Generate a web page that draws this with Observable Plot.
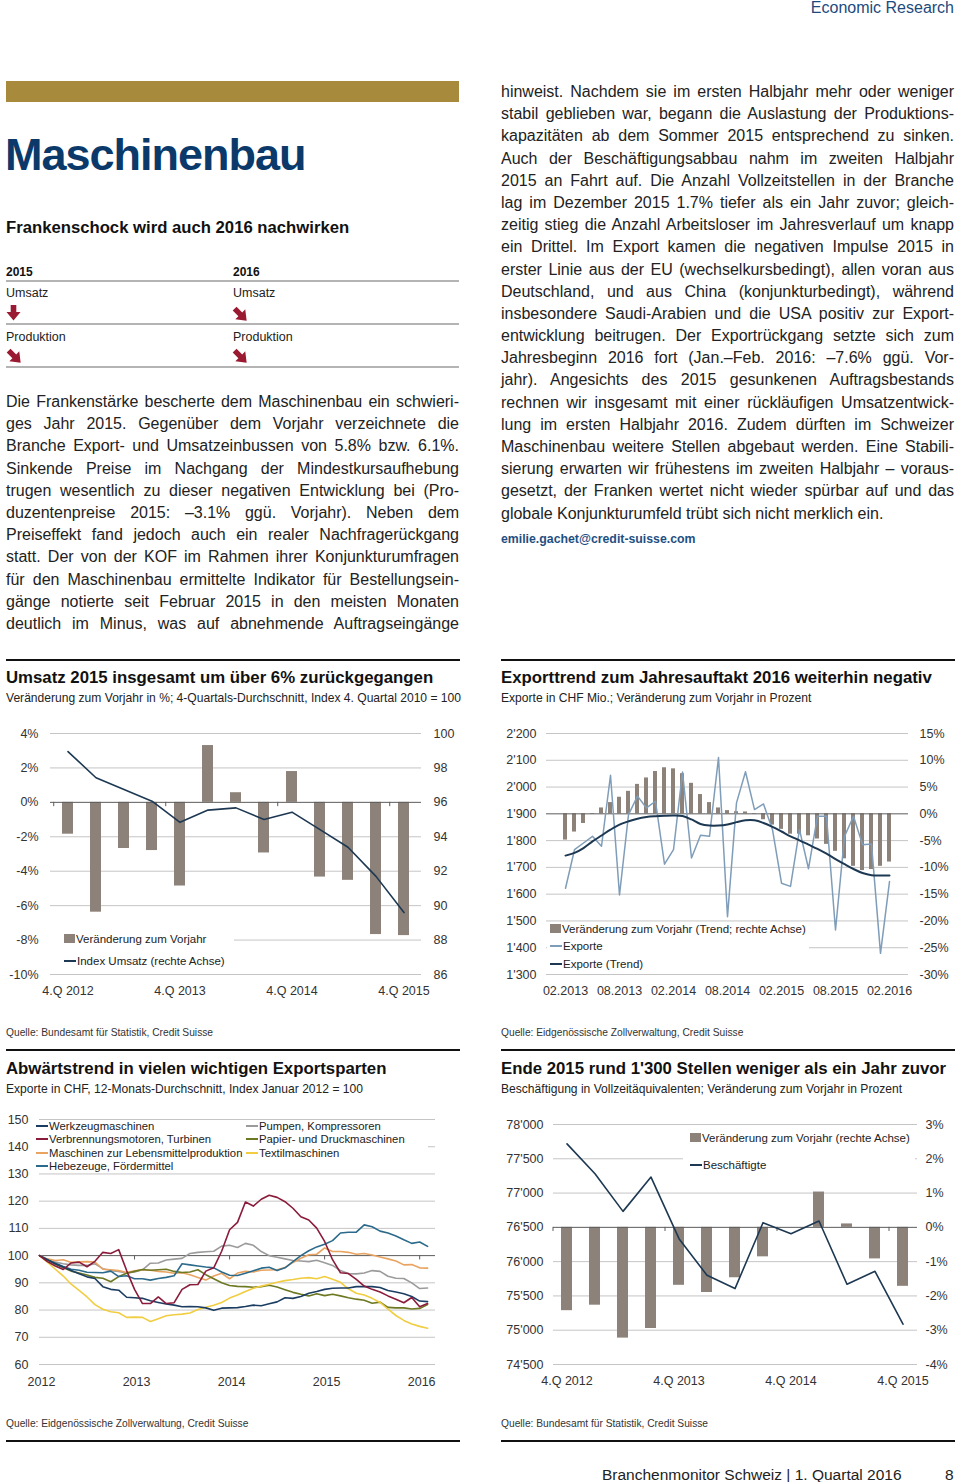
<!DOCTYPE html>
<html lang="de">
<head>
<meta charset="utf-8">
<script src="https://cdn.jsdelivr.net/npm/d3@7"></script>
<script src="https://cdn.jsdelivr.net/npm/@observablehq/plot@0.6"></script>
<style>
  html, body { margin: 0; padding: 0; }
  body { width: 960px; height: 1482px; position: relative; overflow: hidden; background: #fff;
         font-family: "Liberation Sans", Arial, Helvetica, sans-serif; color: #1e1e1e; }
  .a { position: absolute; white-space: nowrap; }
  .rule { position: absolute; height: 2px; background: #111; }
  .grule { position: absolute; height: 2px; background: #b4b4b4; }
  .ctitle { position: absolute; font-weight: bold; font-size: 16.8px; line-height: 20px; color: #111; white-space: nowrap; }
  .csub { position: absolute; font-size: 13.5px; line-height: 16px; color: #222; white-space: nowrap; transform: scaleX(0.895); transform-origin: 0 0; }
  .src { position: absolute; font-size: 11.5px; line-height: 14px; color: #333; white-space: nowrap; transform: scaleX(0.89); transform-origin: 0 0; }
  .col { position: absolute; font-size: 16px; color: #222; }
  .ln { height: 22.2px; line-height: 22.2px; text-align: justify; text-align-last: justify; white-space: nowrap; }
  .ln.last { text-align-last: left; }
  .leg { position: absolute; background: #fff; font-size: 11.5px; color: #222; z-index: 5; }
  .leg .row { position: absolute; white-space: nowrap; line-height: 14px; height: 14px; }
  .sq { display: inline-block; width: 11px; height: 9px; background: #8c827a; margin-right: 1px; vertical-align: 0px; }
  .lw { display: inline-block; width: 12px; height: 2px; margin-right: 1px; vertical-align: 3px; }
  svg.chart { position: absolute; max-width: none; }
</style>
</head>
<body>

<!-- page header -->
<div class="a" style="right:6px; top:-2px; font-size:16px; line-height:20px; color:#1d4a7c;">Economic Research</div>
<div class="a" style="left:6px; top:81px; width:453px; height:21px; background:#a78a3b;"></div>
<div class="a" style="left:5px; top:132px; font-size:45px; line-height:45px; font-weight:bold; letter-spacing:-1px; color:#0b3a6a;">Maschinenbau</div>
<div class="a" style="left:6px; top:218px; font-size:16.7px; line-height:20px; font-weight:bold; color:#111;">Frankenschock wird auch 2016 nachwirken</div>

<!-- outlook table -->
<div class="a" style="left:6px; top:264px; font-size:12px; line-height:16px; font-weight:bold; color:#111;">2015</div>
<div class="a" style="left:233px; top:264px; font-size:12px; line-height:16px; font-weight:bold; color:#111;">2016</div>
<div class="grule" style="left:6px; top:280px; width:453px;"></div>
<div class="a" style="left:6px; top:285px; font-size:12.5px; line-height:16px; color:#222;">Umsatz</div>
<div class="a" style="left:233px; top:285px; font-size:12.5px; line-height:16px; color:#222;">Umsatz</div>
<svg class="a" style="left:6px; top:305px;" width="15" height="16" viewBox="0 0 15 16"><polygon points="4.7,0 10.3,0 10.3,7 14.5,7 7.5,15.5 0.5,7 4.7,7" fill="#9a1a31"/></svg>
<svg class="a" style="left:231px; top:305px;" width="20" height="20" viewBox="0 0 20 20"><g transform="rotate(-45 10 10)"><polygon points="7.3,1 12.7,1 12.7,9 17,9 10,18 3,9 7.3,9" fill="#9a1a31"/></g></svg>
<div class="grule" style="left:6px; top:323px; width:453px;"></div>
<div class="a" style="left:6px; top:329px; font-size:12.5px; line-height:16px; color:#222;">Produktion</div>
<div class="a" style="left:233px; top:329px; font-size:12.5px; line-height:16px; color:#222;">Produktion</div>
<svg class="a" style="left:5px; top:347px;" width="20" height="20" viewBox="0 0 20 20"><g transform="rotate(-45 10 10)"><polygon points="7.3,1 12.7,1 12.7,9 17,9 10,18 3,9 7.3,9" fill="#9a1a31"/></g></svg>
<svg class="a" style="left:231px; top:347px;" width="20" height="20" viewBox="0 0 20 20"><g transform="rotate(-45 10 10)"><polygon points="7.3,1 12.7,1 12.7,9 17,9 10,18 3,9 7.3,9" fill="#9a1a31"/></g></svg>
<div class="grule" style="left:6px; top:366px; width:453px;"></div>

<!-- left text column -->
<div class="col" style="left:6px; top:391px; width:453px;">
  <div class="ln">Die Frankenstärke bescherte dem Maschinenbau ein schwieri-</div>
  <div class="ln">ges Jahr 2015. Gegenüber dem Vorjahr verzeichnete die</div>
  <div class="ln">Branche Export- und Umsatzeinbussen von 5.8% bzw. 6.1%.</div>
  <div class="ln">Sinkende Preise im Nachgang der Mindestkursaufhebung</div>
  <div class="ln">trugen wesentlich zu dieser negativen Entwicklung bei (Pro-</div>
  <div class="ln">duzentenpreise 2015: –3.1% ggü. Vorjahr). Neben dem</div>
  <div class="ln">Preiseffekt fand jedoch auch ein realer Nachfragerückgang</div>
  <div class="ln">statt. Der von der KOF im Rahmen ihrer Konjunkturumfragen</div>
  <div class="ln">für den Maschinenbau ermittelte Indikator für Bestellungsein-</div>
  <div class="ln">gänge notierte seit Februar 2015 in den meisten Monaten</div>
  <div class="ln">deutlich im Minus, was auf abnehmende Auftragseingänge</div>
</div>

<!-- right text column -->
<div class="col" style="left:501px; top:81px; width:453px;">
  <div class="ln">hinweist. Nachdem sie im ersten Halbjahr mehr oder weniger</div>
  <div class="ln">stabil geblieben war, begann die Auslastung der Produktions-</div>
  <div class="ln">kapazitäten ab dem Sommer 2015 entsprechend zu sinken.</div>
  <div class="ln">Auch der Beschäftigungsabbau nahm im zweiten Halbjahr</div>
  <div class="ln">2015 an Fahrt auf. Die Anzahl Vollzeitstellen in der Branche</div>
  <div class="ln">lag im Dezember 2015 1.7% tiefer als ein Jahr zuvor; gleich-</div>
  <div class="ln">zeitig stieg die Anzahl Arbeitsloser im Jahresverlauf um knapp</div>
  <div class="ln">ein Drittel. Im Export kamen die negativen Impulse 2015 in</div>
  <div class="ln">erster Linie aus der EU (wechselkursbedingt), allen voran aus</div>
  <div class="ln">Deutschland, und aus China (konjunkturbedingt), während</div>
  <div class="ln">insbesondere Saudi-Arabien und die USA positiv zur Export-</div>
  <div class="ln">entwicklung beitrugen. Der Exportrückgang setzte sich zum</div>
  <div class="ln">Jahresbeginn 2016 fort (Jan.–Feb. 2016: –7.6% ggü. Vor-</div>
  <div class="ln">jahr). Angesichts des 2015 gesunkenen Auftragsbestands</div>
  <div class="ln">rechnen wir insgesamt mit einer rückläufigen Umsatzentwick-</div>
  <div class="ln">lung im ersten Halbjahr 2016. Zudem dürften im Schweizer</div>
  <div class="ln">Maschinenbau weitere Stellen abgebaut werden. Eine Stabili-</div>
  <div class="ln">sierung erwarten wir frühestens im zweiten Halbjahr – voraus-</div>
  <div class="ln">gesetzt, der Franken wertet nicht wieder spürbar auf und das</div>
  <div class="ln last">globale Konjunkturumfeld trübt sich nicht merklich ein.</div>
</div>
<div class="a" style="left:501px; top:531px; font-size:12.3px; line-height:16px; font-weight:bold; color:#1f4f82;">emilie.gachet@credit-suisse.com</div>

<!-- chart section headers -->
<div class="rule" style="left:6px; top:659px; width:454px;"></div>
<div class="rule" style="left:501px; top:659px; width:454px;"></div>
<div class="ctitle" style="left:6px; top:668px;">Umsatz 2015 insgesamt um über 6% zurückgegangen</div>
<div class="csub" style="left:6px; top:690px;">Veränderung zum Vorjahr in %; 4-Quartals-Durchschnitt, Index 4. Quartal 2010 = 100</div>
<div class="ctitle" style="left:501px; top:668px;">Exporttrend zum Jahresauftakt 2016 weiterhin negativ</div>
<div class="csub" style="left:501px; top:690px;">Exporte in CHF Mio.; Veränderung zum Vorjahr in Prozent</div>
<div class="src" style="left:6px; top:1025px;">Quelle: Bundesamt für Statistik, Credit Suisse</div>
<div class="src" style="left:501px; top:1025px;">Quelle: Eidgenössische Zollverwaltung, Credit Suisse</div>

<div class="rule" style="left:6px; top:1049px; width:454px;"></div>
<div class="rule" style="left:501px; top:1049px; width:454px;"></div>
<div class="ctitle" style="left:6px; top:1059px;">Abwärtstrend in vielen wichtigen Exportsparten</div>
<div class="csub" style="left:6px; top:1081px;">Exporte in CHF, 12-Monats-Durchschnitt, Index Januar 2012 = 100</div>
<div class="ctitle" style="left:501px; top:1059px;">Ende 2015 rund 1'300 Stellen weniger als ein Jahr zuvor</div>
<div class="csub" style="left:501px; top:1081px;">Beschäftigung in Vollzeitäquivalenten; Veränderung zum Vorjahr in Prozent</div>
<div class="src" style="left:6px; top:1416px;">Quelle: Eidgenössische Zollverwaltung, Credit Suisse</div>
<div class="src" style="left:501px; top:1416px;">Quelle: Bundesamt für Statistik, Credit Suisse</div>
<div class="rule" style="left:6px; top:1440px; width:454px;"></div>
<div class="rule" style="left:501px; top:1440px; width:454px;"></div>

<!-- page footer -->
<div class="a" style="left:602px; top:1465px; font-size:15.5px; line-height:20px; color:#222;">Branchenmonitor Schweiz | 1. Quartal 2016</div>
<div class="a" style="left:945px; top:1465px; font-size:15.5px; line-height:20px; color:#222;">8</div>

<!-- legends (HTML, over the plots) -->
<div class="leg" style="left:48px; top:926px; width:186px; height:43px;">
  <div class="row" style="left:16px; top:6px;"><span class="sq"></span>Veränderung zum Vorjahr</div>
  <div class="row" style="left:16px; top:28px;"><span class="lw" style="background:#1d3852"></span>Index Umsatz (rechte Achse)</div>
</div>
<div class="leg" style="left:547px; top:922px; width:262px; height:49px;">
  <div class="row" style="left:3px; top:0px;"><span class="sq"></span>Veränderung zum Vorjahr (Trend; rechte Achse)</div>
  <div class="row" style="left:3px; top:17px;"><span class="lw" style="background:#7f9db9"></span>Exporte</div>
  <div class="row" style="left:3px; top:35px;"><span class="lw" style="background:#1d3852"></span>Exporte (Trend)</div>
</div>
<div class="leg" id="leg3" style="left:36px; top:1121px; width:392px; height:50px; font-size:11.3px;"></div>
<div class="leg" style="left:683px; top:1128px; width:232px; height:46px;">
  <div class="row" style="left:7px; top:3px;"><span class="sq"></span>Veränderung zum Vorjahr (rechte Achse)</div>
  <div class="row" style="left:7px; top:30px;"><span class="lw" style="background:#1d3852"></span>Beschäftigte</div>
</div>

<script>
// ---------------- DATA ----------------
// Chart 1: Umsatz
const quarters = ["4.Q 2012","1.Q 2013","2.Q 2013","3.Q 2013","4.Q 2013","1.Q 2014","2.Q 2014","3.Q 2014","4.Q 2014","1.Q 2015","2.Q 2015","3.Q 2015","4.Q 2015"];
const quarterTicks = ["4.Q 2012","4.Q 2013","4.Q 2014","4.Q 2015"];
const umsatzChange = [-1.85, -6.38, -2.68, -2.8, -4.86, 3.3, 0.56, -2.94, 1.79, -4.34, -4.53, -7.68, -7.74];
const umsatzIndex = [98.95, 97.43, 96.75, 96.07, 94.84, 95.55, 95.68, 95.0, 95.43, 94.42, 93.39, 91.7, 89.6];
const c1PctTicks = [4, 2, 0, -2, -4, -6, -8, -10];
const c1IndexTicks = [100, 98, 96, 94, 92, 90, 88, 86];
const c1IndexAtZero = 96;      // right axis value aligned with 0 %

// Chart 2: Exporte (monthly)
const exportMonths = ["02.2013","03.2013","04.2013","05.2013","06.2013","07.2013","08.2013","09.2013","10.2013","11.2013","12.2013",
  "01.2014","02.2014","03.2014","04.2014","05.2014","06.2014","07.2014","08.2014","09.2014","10.2014","11.2014","12.2014",
  "01.2015","02.2015","03.2015","04.2015","05.2015","06.2015","07.2015","08.2015","09.2015","10.2015","11.2015","12.2015",
  "01.2016","02.2016"];
const exportTicks = ["02.2013","08.2013","02.2014","08.2014","02.2015","08.2015","02.2016"];
const exportChange = [-4.9, -3.4, -1.8, -0.1, 1.1, 2.1, 3.1, 4.2, 5.5, 6.7, 7.9, 8.6, 8.4, 7.5, 5.7, 3.6, 2.1, 1.1, 0.6, 0.4,
  0.35, -0.1, -1.1, -2.1, -2.9, -3.8, -3.8, -4.1, -4.7, -5.7, -7.0, -8.4, -9.8, -10.6, -10.4, -9.8, -9.0];
const exportValues = [1622, 1766, 1791, 1816, 1779, 2044, 1597, 1897, 1966, 1922, 1947, 1712, 1766, 2056, 1735, 1820, 1816, 2110,
  1516, 1941, 2057, 1916, 1937, 1841, 1641, 1629, 1841, 1695, 1891, 1891, 1466, 1816, 1891, 1785, 1787, 1379, 1647];
const exportTrend = [1744, 1754, 1772, 1797, 1819, 1841, 1860, 1872, 1882, 1888, 1891, 1893, 1894, 1892, 1879, 1862, 1856, 1856,
  1860, 1869, 1876, 1876, 1866, 1851, 1834, 1816, 1801, 1785, 1769, 1751, 1731, 1712, 1694, 1679, 1671, 1670, 1670];
const c2ValueTicks = [2200, 2100, 2000, 1900, 1800, 1700, 1600, 1500, 1400, 1300];
const c2PctTicks = [15, 10, 5, 0, -5, -10, -15, -20, -25, -30];
const c2ValueAtZero = 1900, c2ValuePerPct = 20;

// Chart 3: Exportsparten (12-Monats-Durchschnitt, Jan 2012 .. Feb 2016, Index Jan 2012 = 100)
const c3YearTicks = [0, 12, 24, 36, 48];        // month index of January 2012..2016
const c3ValueTicks = [150, 140, 130, 120, 110, 100, 90, 80, 70, 60];
const werkzeugmaschinen = [100, 98.5, 97.0, 95.8, 94.5, 93.3, 92.2, 91.6, 88.6, 87.6, 87.3, 84.7, 84.5, 84.3, 83.4, 82.8, 82.2, 81.8, 81.2, 81.3,
  81.2, 80.8, 79.9, 80.7, 80.8, 80.9, 81.3, 81.8, 81.6, 82.3, 83.0, 84.5, 84.3, 85.0, 86.2, 86.8, 87.6, 88.0, 88.1, 88.1,
  88.6, 88.6, 88.6, 88.3, 87.2, 86.6, 86.0, 85.0, 83.3, 83.1];
const verbrennungsmotoren = [100, 97.8, 96.2, 94.9, 97.3, 97.6, 95.9, 97.9, 101.2, 100.8, 102.2, 94.5, 87.6, 82.4, 82.4, 84.8, 82.4, 82.7, 87.6, 89.3,
  89.4, 94.3, 95.5, 101.6, 109.5, 112.2, 119.7, 118.2, 120.7, 122.2, 121.4, 119.8, 117.4, 114.3, 113.1, 110.1, 105.2, 98.5, 93.7, 93.4,
  91.3, 88.8, 87.6, 86.6, 85.2, 84.0, 82.7, 84.6, 81.2, 82.4];
const lebensmittel = [100, 98.8, 98.2, 98.5, 97.5, 97.7, 97.8, 97.6, 95.0, 94.8, 94.5, 93.8, 94.4, 94.8, 94.6, 94.2, 94.0, 93.5, 93.7, 93.0,
  92.0, 91.0, 92.5, 93.5, 91.5, 93.6, 94.2, 94.0, 94.6, 94.7, 94.8, 95.6, 97.5, 99.0, 100.3, 100.5, 102.8, 101.5, 101.5, 101.2,
  100.5, 100.8, 100.2, 99.5, 98.8, 98.0, 96.6, 96.7, 95.5, 95.4];
const hebezeuge = [100, 98.5, 97.2, 96.0, 95.0, 94.6, 93.9, 93.8, 93.7, 94.3, 92.3, 92.6, 91.5, 91.5, 91.0, 91.6, 92.0, 92.6, 97.0, 96.6,
  96.2, 95.8, 95.5, 94.0, 92.8, 92.7, 93.5, 94.4, 95.4, 95.7, 94.5, 95.5, 97.8, 100.0, 101.8, 103.2, 104.2, 105.5, 108.3, 108.6,
  108.6, 111.3, 110.6, 109.0, 108.3, 107.2, 105.8, 104.5, 105.0, 103.4];
const pumpen = [100, 98.6, 97.6, 97.0, 96.6, 96.4, 96.4, 97.0, 95.2, 94.5, 94.2, 93.6, 94.0, 94.8, 97.2, 97.3, 98.4, 98.7, 99.0, 100.8,
  101.2, 101.4, 101.6, 103.5, 103.8, 103.0, 104.5, 103.8, 101.5, 100.0, 99.4, 98.8, 98.2, 98.0, 97.8, 98.3, 97.4, 96.4, 94.5, 93.4,
  93.3, 93.6, 94.5, 94.2, 92.4, 91.7, 91.6, 90.0, 87.9, 88.1];
const papier = [100, 98.4, 96.8, 95.5, 94.3, 93.6, 92.9, 92.0, 91.7, 90.4, 92.3, 93.5, 94.2, 94.9, 94.6, 94.8, 95.0, 94.2, 93.8, 94.0,
  94.8, 93.0, 91.5, 90.0, 89.0, 88.7, 88.6, 88.4, 88.6, 89.1, 88.5, 87.5, 86.5, 85.8, 85.2, 86.0, 85.3, 85.8, 85.2, 84.5,
  84.0, 83.6, 82.5, 82.9, 81.0, 80.8, 80.8, 80.4, 80.6, 82.0];
const textil = [100, 97.6, 95.0, 92.5, 89.5, 87.2, 84.8, 82.0, 80.3, 79.4, 79.0, 77.3, 77.4, 77.3, 75.8, 76.8, 77.9, 78.3, 78.5, 78.9,
  80.2, 81.0, 81.8, 82.8, 84.4, 85.5, 86.8, 88.0, 88.8, 89.5, 90.2, 90.8, 91.2, 91.7, 91.9, 91.5, 92.3, 91.3, 90.2, 87.8,
  86.2, 85.5, 84.3, 82.8, 80.3, 78.0, 76.2, 74.9, 74.0, 73.3];
const c3Series = [
  {name: "Werkzeugmaschinen", color: "#1c3d62", values: werkzeugmaschinen, col: 0, row: 0},
  {name: "Verbrennungsmotoren, Turbinen", color: "#8a1b3b", values: verbrennungsmotoren, col: 0, row: 1},
  {name: "Maschinen zur Lebensmittelproduktion", color: "#eaa461", values: lebensmittel, col: 0, row: 2},
  {name: "Hebezeuge, Fördermittel", color: "#2c6a8b", values: hebezeuge, col: 0, row: 3},
  {name: "Pumpen, Kompressoren", color: "#9b9b9b", values: pumpen, col: 1, row: 0},
  {name: "Papier- und Druckmaschinen", color: "#6d7822", values: papier, col: 1, row: 1},
  {name: "Textilmaschinen", color: "#f1cd42", values: textil, col: 1, row: 2}
];
const c3DrawOrder = ["Pumpen, Kompressoren", "Maschinen zur Lebensmittelproduktion", "Papier- und Druckmaschinen", "Textilmaschinen",
  "Hebezeuge, Fördermittel", "Werkzeugmaschinen", "Verbrennungsmotoren, Turbinen"];

// Chart 4: Beschäftigte
const beschChange = [-2.43, -2.27, -3.23, -2.95, -1.69, -1.9, -1.47, -0.86, 0.0, 1.03, 0.1, -0.92, -1.72];
const beschaeftigte = [77718, 77282, 76733, 77233, 76335, 75801, 75607, 76568, 76408, 76592, 75670, 75859, 75087];
const c4ValueTicks = [78000, 77500, 77000, 76500, 76000, 75500, 75000, 74500];
const c4PctTicks = [3, 2, 1, 0, -1, -2, -3, -4];
const c4ValueAtZero = 76500, c4ValuePerPct = 500;

// ---------------- STYLE ----------------
const GRID = "#c5c5c5", ZERO = "#5c5c5c", BAR = "#8c827a", NAVY = "#1d3852", STEEL = "#7f9db9";
const plotStyle = {fontFamily: "'Liberation Sans', Arial, Helvetica, sans-serif", fontSize: "12.5px", color: "#333", background: "transparent", overflow: "visible"};
const apos = d => String(d).replace(/\B(?=(\d{3})+$)/g, "'");

function place(svg, left, top) {
  svg.classList.add("chart");
  svg.style.position = "absolute";
  svg.style.left = left + "px";
  svg.style.top = top + "px";
  svg.style.maxWidth = "none";
  document.body.appendChild(svg);
}

// ---------------- CHART 1 ----------------
const c1 = quarters.map((q, i) => ({q, change: umsatzChange[i], index: umsatzIndex[i]}));
place(Plot.plot({
  width: 460, height: 284, marginTop: 18, marginBottom: 25, marginLeft: 50, marginRight: 39,
  style: plotStyle,
  x: {type: "band", domain: quarters, paddingInner: 0.615, paddingOuter: 0.3075, axis: null},
  y: {domain: [-10, 4], axis: null},
  marks: [
    Plot.gridY(c1PctTicks.filter(d => d !== 0), {stroke: GRID, strokeOpacity: 1}),
    Plot.barY(c1, {x: "q", y: "change", fill: BAR}),
    Plot.ruleY([0], {stroke: ZERO}),
    Plot.ruleX(quarterTicks, {x: d => d, y1: 0, y2: -0.25, stroke: ZERO, dx: -14.27}),
    Plot.line(c1, {x: "q", y: d => d.index - c1IndexAtZero, stroke: NAVY, strokeWidth: 1.6}),
    Plot.axisY(c1PctTicks, {anchor: "left", tickSize: 0, tickPadding: 12, tickFormat: d => d + "%", label: null}),
    Plot.axisY(c1IndexTicks.map(v => v - c1IndexAtZero), {anchor: "right", tickSize: 0, tickPadding: 12, tickFormat: d => String(d + c1IndexAtZero), label: null}),
    Plot.axisX(quarterTicks, {anchor: "bottom", tickSize: 0, tickPadding: 12, label: null})
  ]
}), 0, 715);

// ---------------- CHART 2 ----------------
const c2 = exportMonths.map((m, i) => ({m, change: exportChange[i], exp: exportValues[i], trend: exportTrend[i]}));
place(Plot.plot({
  width: 465, height: 284, marginTop: 18, marginBottom: 25, marginLeft: 51, marginRight: 52,
  style: plotStyle,
  x: {type: "band", domain: exportMonths, paddingInner: 0.58, paddingOuter: 0.29, axis: null},
  y: {domain: [1300, 2200], axis: null},
  marks: [
    Plot.gridY(c2ValueTicks.filter(d => d !== c2ValueAtZero), {stroke: GRID, strokeOpacity: 1}),
    Plot.barY(c2, {x: "m", y1: c2ValueAtZero, y2: d => c2ValueAtZero + c2ValuePerPct * d.change, fill: BAR}),
    Plot.ruleY([c2ValueAtZero], {stroke: ZERO}),
    Plot.line(c2, {x: "m", y: "exp", stroke: STEEL, strokeWidth: 1.5}),
    Plot.line(c2, {x: "m", y: "trend", stroke: NAVY, strokeWidth: 2, curve: "catmull-rom"}),
    Plot.axisY(c2ValueTicks, {anchor: "left", tickSize: 0, tickPadding: 10, tickFormat: apos, label: null}),
    Plot.axisY(c2PctTicks.map(p => c2ValueAtZero + c2ValuePerPct * p), {anchor: "right", tickSize: 0, tickPadding: 11,
      tickFormat: d => String((d - c2ValueAtZero) / c2ValuePerPct) + "%", label: null}),
    Plot.axisX(exportTicks, {anchor: "bottom", tickSize: 0, tickPadding: 12, label: null})
  ]
}), 495, 715);

// ---------------- CHART 3 ----------------
const c3Marks = [
  Plot.gridY(c3ValueTicks.filter(d => d !== 100), {stroke: GRID, strokeOpacity: 1}),
  Plot.ruleY([100], {stroke: ZERO}),
  Plot.ruleX(c3YearTicks.slice(1), {x: d => d, y1: 100, y2: 98.4, stroke: ZERO})
];
for (const name of c3DrawOrder) {
  const s = c3Series.find(d => d.name === name);
  c3Marks.push(Plot.line(s.values.map((v, m) => ({m, v})), {x: "m", y: "v", stroke: s.color, strokeWidth: 1.6}));
}
c3Marks.push(
  Plot.axisY(c3ValueTicks, {anchor: "left", tickSize: 0, tickPadding: 11, label: null}),
  Plot.axisX(c3YearTicks, {anchor: "bottom", tickSize: 0, tickPadding: 13, dx: 2, tickFormat: d => String(2012 + d / 12), label: null})
);
place(Plot.plot({
  width: 460, height: 284, marginTop: 14, marginBottom: 25, marginLeft: 39, marginRight: 25,
  style: plotStyle,
  x: {type: "linear", domain: [0, 50], axis: null},
  y: {domain: [60, 150], axis: null},
  marks: c3Marks
}), 0, 1105);

// legend for chart 3
const leg3 = document.getElementById("leg3");
for (const s of c3Series) {
  const row = document.createElement("div");
  row.className = "row";
  row.style.left = (s.col === 0 ? 0 : 210) + "px";
  row.style.top = (s.row * 13.3 - 2) + "px";
  row.innerHTML = `<span class="lw" style="background:${s.color}"></span>${s.name}`;
  leg3.appendChild(row);
}

// ---------------- CHART 4 ----------------
const c4 = quarters.map((q, i) => ({q, change: beschChange[i], emp: beschaeftigte[i]}));
place(Plot.plot({
  width: 465, height: 284, marginTop: 19, marginBottom: 25, marginLeft: 58, marginRight: 43,
  style: plotStyle,
  x: {type: "band", domain: quarters, paddingInner: 0.6, paddingOuter: 0.3, axis: null},
  y: {domain: [74500, 78000], axis: null},
  marks: [
    Plot.gridY(c4ValueTicks.filter(d => d !== c4ValueAtZero), {stroke: GRID, strokeOpacity: 1}),
    Plot.barY(c4, {x: "q", y1: c4ValueAtZero, y2: d => c4ValueAtZero + c4ValuePerPct * d.change, fill: BAR}),
    Plot.ruleY([c4ValueAtZero], {stroke: ZERO}),
    Plot.ruleX(quarterTicks, {x: d => d, y1: c4ValueAtZero, y2: c4ValueAtZero - 60, stroke: ZERO, dx: -14}),
    Plot.line(c4, {x: "q", y: "emp", stroke: NAVY, strokeWidth: 1.6}),
    Plot.axisY(c4ValueTicks, {anchor: "left", tickSize: 0, tickPadding: 10, tickFormat: apos, label: null}),
    Plot.axisY(c4PctTicks.map(p => c4ValueAtZero + c4ValuePerPct * p), {anchor: "right", tickSize: 0, tickPadding: 8,
      tickFormat: d => String((d - c4ValueAtZero) / c4ValuePerPct) + "%", label: null}),
    Plot.axisX(quarterTicks, {anchor: "bottom", tickSize: 0, tickPadding: 12, label: null})
  ]
}), 495, 1105);

// keep legends above the plots
document.querySelectorAll(".leg").forEach(el => document.body.appendChild(el));
</script>
</body>
</html>
